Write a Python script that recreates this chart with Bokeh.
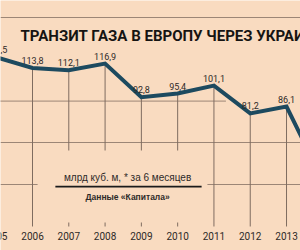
from bokeh.plotting import figure
from bokeh.models import ColumnDataSource, LabelSet, Label, BoxAnnotation, Range1d, FixedTicker
from bokeh.embed import file_html
from bokeh.resources import INLINE
from bokeh.core.properties import value

# ---- data ----
years = [2005, 2006, 2007, 2008, 2009, 2010, 2011, 2012, 2013, 2014]
volumes = [121.5, 113.8, 112.1, 116.9, 92.8, 95.4, 101.1, 81.2, 86.1, 33.0]
value_labels = ["121,5", "113,8", "112,1", "116,9", "92,8", "95,4", "101,1", "81,2", "86,1", ""]
year_labels = ["2005", "2006", "2007", "2008", "2009", "2010", "2011", "2012", "2013", ""]
grid_values = [30, 60, 150]
title_text = "ТРАНЗИТ ГАЗА В ЕВРОПУ ЧЕРЕЗ УКРАИНУ*"
unit_text = "млрд куб. м, * за 6 месяцев"
source_text = "Данные «Капитала»"

# ---- style ----
BG = "#f9dbc0"
GRID = "#9c8676"
DROP = "#7f6c60"
LINE = "#1d4a5f"
TXT = "#2e2a28"
NARROW = "Roboto"
SANS = "Liberation Sans"

src = ColumnDataSource(dict(year=years, vol=volumes, vlab=value_labels, ylab=year_labels))

p = figure(width=300, height=250, output_backend="svg", toolbar_location=None,
           x_range=Range1d(2005.118, 2013.385), y_range=Range1d(-17.23, 162.2),
           min_border_left=0, min_border_right=0, min_border_top=0, min_border_bottom=0,
           background_fill_color=BG, border_fill_color=BG, outline_line_color=None)
p.xaxis.visible = False
p.yaxis.visible = False
p.xgrid.visible = False
p.ygrid.ticker = FixedTicker(ticks=grid_values)
p.ygrid.grid_line_color = GRID
p.ygrid.grid_line_width = 1

# partial 90 grid line
p.segment(x0=[2005.0], y0=[90], x1=[2011.33], y1=[90], line_color=GRID, line_width=1)

# drop lines
p.segment(x0="year", y0=0, x1="year", y1="vol", source=src, line_color=DROP, line_width=1)

# main line
p.line("year", "vol", source=src, line_color=LINE, line_width=4, line_join="miter")

# note box
box = BoxAnnotation(left=2006.14, right=2010.82, bottom=2.9, top=54.6,
                    fill_color=BG, fill_alpha=1, line_color=None)
p.add_layout(box)
p.segment(x0=[2006.63], y0=[28.6], x1=[2010.66], y1=[28.6], line_color="#1a1a1a",
          line_width=1.6, level="overlay")
p.add_layout(Label(x=2008.62, y=35.0, text=unit_text, text_font=SANS, text_font_size="10px",
                   text_color=TXT, text_align="center", text_baseline="middle"))
p.add_layout(Label(x=2008.62, y=21.5, text=source_text, text_font=SANS, text_font_size="8.5px",
                   text_font_style="bold", text_color=TXT, text_align="center",
                   text_baseline="middle"))

# value labels
p.add_layout(LabelSet(x="year", y="vol", text="vlab", source=src, y_offset=4,
                      text_font=value(NARROW), text_font_size="9px", text_color=TXT,
                      text_align="center", text_baseline="bottom"))
# year labels
p.add_layout(LabelSet(x="year", y=0, text="ylab", source=src, y_offset=-10,
                      text_font=value(NARROW), text_font_size="10px", text_color=TXT,
                      text_align="center", text_baseline="middle"))

# title
p.add_layout(Label(x=2005.67, y=137.0, text=title_text, text_font=NARROW, text_font_size="15px",
                   text_font_style="bold", text_color="#161412", text_align="left",
                   text_baseline="middle"))

open("out.html", "w").write(file_html(p, INLINE))
